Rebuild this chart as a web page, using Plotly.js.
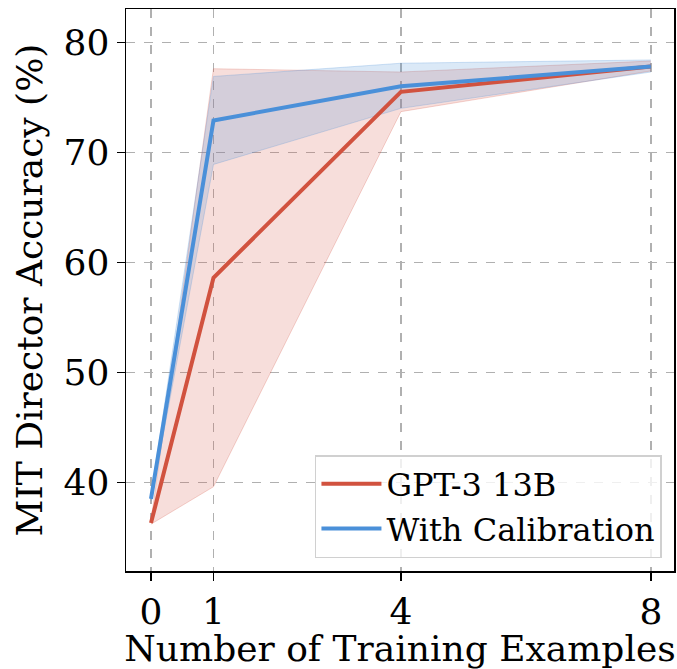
<!DOCTYPE html>
<html>
<head>
<meta charset="utf-8">
<script src="https://cdn.plot.ly/plotly-3.0.1.min.js"></script>
<style>html,body{margin:0;padding:0;background:#fff;}#chart{width:677px;height:669px;}</style>
</head>
<body>
<div id="chart"></div>
<script>
const shots = [0, 1, 4, 8];
const gptMean = [36.3, 58.6, 75.5, 77.8];
const gptUpper = [36.5, 77.6, 77.3, 78.3];
const gptLower = [36.2, 39.6, 73.7, 77.4];
const calMean = [38.5, 72.9, 76.0, 77.8];
const calUpper = [38.8, 76.9, 78.1, 78.4];
const calLower = [38.3, 68.9, 74.0, 77.3];
const tickVals = [0, 1, 4, 8];
const tickText = ['0', '1', '4', '8'];
const yTicks = [40, 50, 60, 70, 80];
const names = ['GPT-3 13B', 'With Calibration'];

const red = '#D1523F';
const blue = '#4A90D9';
const redFill = 'rgba(214,92,75,0.2)';
const blueFill = 'rgba(74,144,217,0.2)';
const font = 'DejaVu Serif';

function band(upper, lower, fillc, edge) {
  return [
    {x: shots, y: upper, mode: 'lines', line: {color: edge, width: 1}, showlegend: false, hoverinfo: 'skip'},
    {x: shots, y: lower, mode: 'lines', line: {color: edge, width: 1}, fill: 'tonexty', fillcolor: fillc, showlegend: false, hoverinfo: 'skip'}
  ];
}

const data = [
  ...band(gptUpper, gptLower, redFill, 'rgba(214,92,75,0.25)'),
  ...band(calUpper, calLower, blueFill, 'rgba(74,144,217,0.25)'),
  {x: shots, y: gptMean, mode: 'lines', name: names[0], line: {color: red, width: 4}},
  {x: shots, y: calMean, mode: 'lines', name: names[1], line: {color: blue, width: 4}}
];

const axisCommon = {
  showline: true, linecolor: '#000', linewidth: 1.5, mirror: true,
  ticks: 'outside', ticklen: 8, tickwidth: 1.5, tickcolor: '#000',
  showgrid: true, gridcolor: '#b0b0b0', gridwidth: 1.5, griddash: 'dash',
  zeroline: false,
  tickfont: {family: font, size: 36, color: '#000'}
};

const layout = {
  width: 677, height: 669,
  margin: {l: 126, r: 3, t: 9, b: 98},
  paper_bgcolor: '#fff', plot_bgcolor: '#fff',
  font: {family: font, color: '#000'},
  xaxis: Object.assign({}, axisCommon, {
    range: [-0.4, 8.37], tickvals: tickVals, ticktext: tickText,
    title: {text: 'Number of Training Examples', font: {family: font, size: 36, color: '#000'}, standoff: 2}
  }),
  yaxis: Object.assign({}, axisCommon, {
    range: [31.94, 83.03], tickvals: yTicks,
    title: {text: 'MIT Director Accuracy (%)', font: {family: font, size: 36, color: '#000'}, standoff: 10}
  }),
  legend: {
    x: 0.978, y: 0.023, xanchor: 'right', yanchor: 'bottom',
    traceorder: 'normal',
    bgcolor: 'rgba(255,255,255,0.8)', bordercolor: '#d0d0d0', borderwidth: 1.5,
    font: {family: font, size: 32, color: '#000'},
    itemwidth: 60,
    tracegroupgap: 0
  },
  showlegend: true
};

Plotly.newPlot('chart', data, layout, {displayModeBar: false, staticPlot: true});
</script>
</body>
</html>
